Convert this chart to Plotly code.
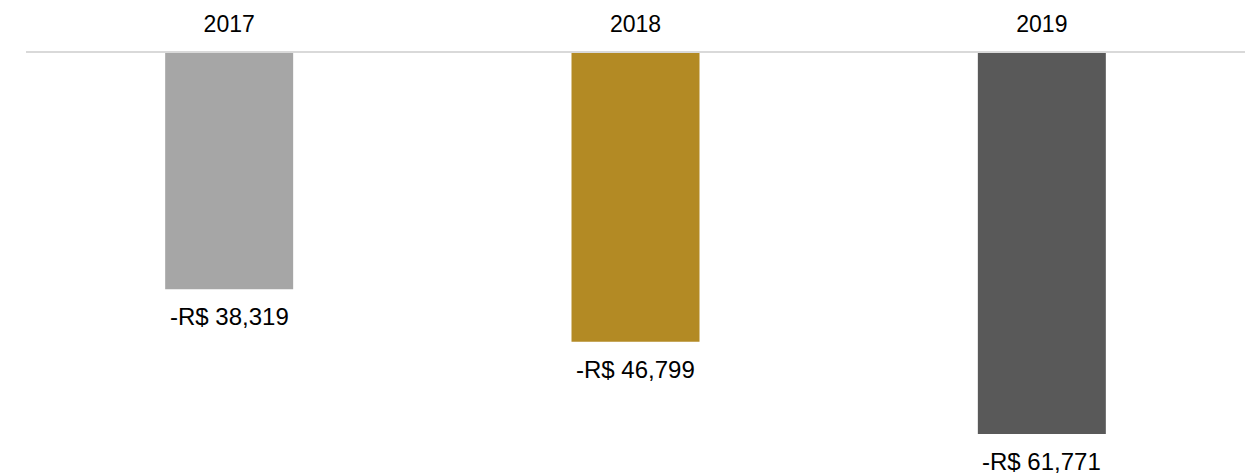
import plotly.graph_objects as go

years = ["2017", "2018", "2019"]
values = [-38319, -46799, -61771]
colors = ["#A6A6A6", "#B38A24", "#595959"]
labels = [f"-R$ {abs(v):,}" for v in values]

FONT = "Arial, Liberation Sans, sans-serif"

fig = go.Figure()
fig.add_trace(go.Bar(
    x=years, y=values, marker=dict(color=colors, line=dict(width=0)),
    width=0.315, hoverinfo="skip",
))
for i, (v, t) in enumerate(zip(values, labels)):
    fig.add_annotation(x=i, y=v, text=t, showarrow=False, yanchor="top",
                       yshift=-12, font=dict(family=FONT, size=24, color="#000000"))

fig.update_layout(
    width=1254, height=474,
    margin=dict(l=26, r=9, t=53, b=0),
    paper_bgcolor="white", plot_bgcolor="white",
    showlegend=False,
    font=dict(family=FONT, color="#000000"),
    xaxis=dict(type="category", side="top", showline=True, linecolor="#D9D9D9", linewidth=2,
               range=[-0.5, len(years) - 0.5],
               ticks="", showgrid=False, zeroline=False, ticklabelstandoff=10,
               tickfont=dict(family=FONT, size=23, color="#000000")),
    yaxis=dict(range=[-68257, 0], visible=False, showgrid=False, zeroline=False),
)
fig.write_html("out.html")
